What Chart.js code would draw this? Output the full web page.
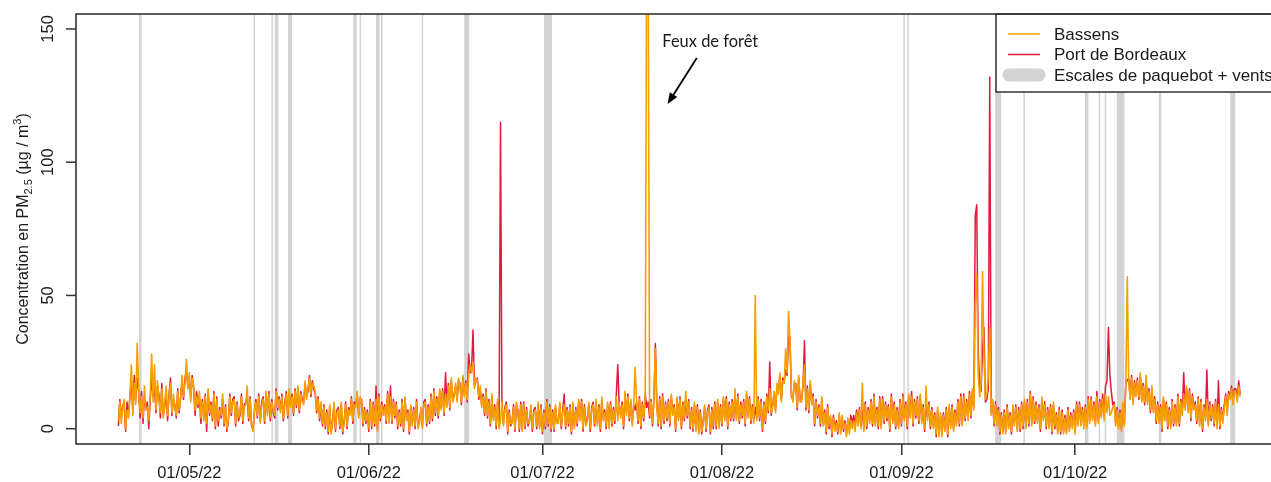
<!DOCTYPE html>
<html><head><meta charset="utf-8">
<script src="https://cdn.jsdelivr.net/npm/chart.js@4.4.1/dist/chart.umd.min.js"></script>
<style>html,body{margin:0;padding:0;background:#fff;overflow:hidden;width:1271px;height:482px}canvas{display:block}</style>
</head><body><canvas id="c" width="1300" height="482"></canvas>
<script>
// ---- DATA ----
const seriesNames = ['Bassens', 'Port de Bordeaux'];
const bandLabel = 'Escales de paquebot + vents';
// 6-hourly values; first value at day -12.25 (days counted from 01/05/22)
const firstDay = -12.25;
const stepDays = 0.25;
const bassens = [
3,10,2,8, 11,0,7,4, 13,24,5,17, 9,32,15,6, 12,4,16,7, 8,3,13,28, 10,24,7,18, 11,6,15,4, 9,16,5,12, 17,6,13,8,
5,14,7,11, 20,12,17,26, 15,21,10,19, 16,7,12,9, 14,4,10,3, 12,2,15,6, 9,4,13,1, 11,3,7,5, 13,2,8,0, 4,12,6,10,
11,2,9,4, 6,12,3,8, 9,16,4,11, 2,-1,7,10, 5,12,2,9, 11,3,14,5, 13,4,10,7, 5,14,8,11, 6,12,4,9, 13,5,15,8,
12,6,14,9, 16,7,13,10, 9,18,11,15, 19,13,17,16, 14,7,11,4, 10,2,8,1, 6,-1,9,-2, 2,10,0,6, 7,1,10,-1, 2,9,1,7,
5,11,3,9, 8,14,4,12, 10,2,7,3, 6,0,10,1, 9,2,11,-1, 12,4,9,5, 8,3,13,2, 12,3,10,5, 9,1,6,2, 10,0,12,3,
6,-1,9,1, 7,1,10,0, 2,8,0,9, 10,2,8,3, 12,4,14,6, 11,5,15,7, 14,6,13,8, 16,8,19,10, 12,17,10,19, 16,10,20,12,
17,11,20,24, 21,25,15,19, 18,12,16,8, 12,6,14,5, 10,2,13,3, 8,1,11,0, 3,10,1,7, 9,-1,6,2, 2,8,0,10, 6,0,9,-1,
9,1,7,2, 2,9,0,6, 7,1,10,0, 8,-1,6,1, 10,2,8,0, 6,0,9,2, 2,10,1,6, 9,1,7,2, 8,-1,10,0, 7,2,11,3,
10,0,8,1, 3,10,0,7, 9,2,11,1, 8,0,12,3, 6,1,10,0, 9,2,7,3, 12,3,10,4, 9,1,14,5, 12,4,11,1, 8,23,11,3,
11,1,9,4, 12,190,175,5, 10,2,12,30, 8,2,11,1, 12,3,9,4, 10,2,13,5, 8,0,12,3, 11,1,9,4, 14,5,10,1, 7,0,10,-1,
8,-2,6,-1, 2,9,0,6, 8,-1,7,1, 9,1,11,0, 8,2,12,3, 11,1,9,4, 10,4,15,3, 12,3,9,5, 10,2,14,4, 11,3,8,2,
50,3,11,4, 10,0,9,3, 12,7,15,6, 8,14,6,17, 13,21,10,18, 17,30,21,44, 33,13,10,18, 16,8,20,10, 10,17,24,8, 15,7,18,9,
12,2,10,5, 8,2,12,1, 6,-1,8,1, 5,-2,4,-1, 2,-1,6,-2, 5,0,2,-3, 4,-2,3,0, 3,-1,6,1, 7,0,17,-1, 9,1,7,2,
10,2,12,1, 7,1,11,0, 11,3,9,4, 8,0,12,2, 9,1,7,0, 10,2,12,3, 9,1,13,4, 12,2,10,5, 11,3,13,2, 8,0,16,3,
9,1,7,0, 5,-2,8,-3, 6,-3,5,-1, 7,-2,9,0, 8,-1,6,1, 10,2,12,1, 12,4,10,3, 13,5,15,7, 47,58,21,12, 17,59,27,11,
13,20,38,5, 11,2,9,1, 7,-1,5,-2, 6,-2,8,0, 5,-1,9,1, 8,-1,7,0, 9,1,11,0, 10,2,13,1, 11,3,9,2, 8,0,12,3,
9,1,7,0, 8,-1,10,1, 5,-2,7,-1, 6,-2,4,-2, 7,-1,5,0, 6,-2,9,1, 9,1,7,0, 8,0,11,2, 11,3,9,1, 12,2,10,4,
11,3,13,6, 12,5,6,8, 9,1,7,0, 6,-1,10,1, 16,57,18,11, 19,9,17,12, 18,12,21,10, 16,10,20,9, 14,7,16,6, 11,3,9,2,
8,0,12,3, 9,1,7,0, 10,2,8,1, 12,2,10,5, 13,7,16,6, 14,4,12,7, 9,3,11,1, 10,0,8,3, 11,1,9,4, 8,2,10,0,
9,1,7,2, 8,12,5,13, 11,15,9,14, 14,10,16,12
];
const portBordeaux = [
1,11,4,9, 9,-1,10,5, 12,18,6,20, 11,19,14,4, 14,2,12,8, 10,0,11,19, 12,15,6,16, 13,4,17,5, 8,14,3,13, 19,5,11,9,
4,15,6,12, 18,11,19,22, 16,18,12,20, 15,5,14,8, 12,2,11,4, 13,-1,14,5, 10,3,14,0, 12,1,8,4, 11,1,9,-1, 3,13,5,11,
12,1,10,3, 5,13,2,9, 10,12,3,12, 1,0,6,11, 4,13,3,10, 12,2,13,6, 14,3,11,6, 4,15,7,12, 7,13,3,10, 14,4,13,9,
13,5,15,8, 15,6,14,11, 10,17,12,14, 20,12,18,15, 13,6,12,3, 9,1,9,0, 7,-2,8,-1, 3,9,-1,7, 8,0,9,-2, 3,10,0,8,
6,12,2,10, 9,13,5,11, 11,1,8,2, 7,-1,11,0, 10,1,16,0, 13,3,10,6, 9,2,14,3, 16,2,11,4, 10,0,7,1, 11,-1,11,4,
7,-2,8,2, 8,0,11,1, 3,7,1,10, 11,1,9,2, 13,3,15,5, 12,4,14,8, 15,5,21,9, 17,7,18,11, 13,16,11,18, 17,9,19,13,
18,10,28,21, 22,37,16,18, 19,11,15,9, 13,5,15,4, 11,1,12,4, 9,0,10,1, 115,9,2,8, 10,-2,7,1, 3,9,-1,9, 7,-1,10,0,
10,0,8,1, 3,8,-1,7, 8,0,9,1, 9,-2,7,0, 11,1,9,-1, 7,-1,8,3, 3,9,0,7, 13,0,8,1, 9,-2,9,1, 8,1,10,4,
11,-1,9,2, 4,9,-1,8, 10,1,10,2, 9,-1,11,4, 7,0,9,1, 10,1,8,2, 13,24,9,5, 10,0,12,6, 13,3,10,2, 9,7,10,2,
12,0,10,3, 13,8,10,4, 11,1,11,32, 9,1,12,0, 13,2,10,3, 11,1,12,6, 9,-1,11,4, 12,0,10,3, 12,4,11,0, 8,-1,9,0,
9,-1,7,-2, 3,8,-1,7, 9,-2,8,0, 10,0,10,1, 9,1,11,4, 12,0,10,3, 11,3,13,4, 13,2,10,4, 11,1,13,5, 12,2,9,3,
8,4,12,3, 11,-1,10,2, 13,6,25,5, 9,13,7,16, 14,20,11,19, 18,22,20,35, 34,12,11,17, 17,7,19,11, 11,16,33,7, 16,6,17,10,
13,1,11,4, 9,1,11,2, 7,-2,9,0, 4,-3,5,0, 3,-2,5,-1, 4,-1,3,-2, 3,0,5,2, 5,2,7,3, 8,1,7,0, 10,0,8,3,
11,1,13,2, 8,0,12,1, 12,2,10,3, 9,-1,13,3, 10,0,8,1, 11,1,13,4, 10,0,12,5, 14,1,11,4, 12,2,12,3, 9,-1,10,4,
10,0,8,1, 6,-3,7,-2, 5,-2,6,0, 8,-3,8,1, 9,0,7,2, 11,1,13,2, 13,3,11,4, 14,4,14,8, 80,84,30,16, 14,30,38,10,
11,15,132,6, 10,1,10,2, 8,-2,6,-1, 7,-1,9,1, 6,-2,8,2, 9,0,8,-1, 10,0,10,1, 11,1,14,2, 12,2,10,3, 9,-1,11,4,
10,0,8,1, 9,-2,9,0, 6,-1,8,-2, 7,-1,5,-1, 8,0,6,1, 7,-1,10,2, 10,2,8,1, 9,1,12,3, 12,4,10,2, 14,3,11,5,
13,5,16,18, 38,20,14,9, 10,2,8,1, 7,0,9,2, 17,18,19,12, 20,10,18,13, 19,11,20,11, 17,9,19,10, 15,6,15,7, 12,2,10,3,
9,-1,11,4, 10,0,8,1, 11,1,9,2, 13,1,11,6, 21,8,15,7, 15,3,13,8, 10,2,12,2, 11,-1,9,4, 22,2,10,3, 9,1,11,1,
18,0,8,3, 9,13,6,14, 12,16,10,15, 15,11,18,13
];
// cruise-ship calls + wind periods (start / end, days from 01/05/22)
const bandStart = [-8.68, 11.10, 14.19, 14.78, 17.05, 28.32, 29.41, 32.25, 33.11, 40.14, 47.47, 61.27, 123.33, 124.02, 139.18, 144.06, 154.70, 157.06, 158.10, 160.21, 167.46, 179.78];
const bandEnd   = [-8.25, 11.36, 14.45, 15.38, 17.75, 28.92, 29.67, 32.85, 33.37, 40.40, 48.33, 62.65, 123.59, 124.28, 140.22, 144.32, 155.30, 157.32, 158.36, 161.51, 167.89, 180.64];
const xTickDays = [0, 31, 61, 92, 123, 153];
const xTickLabels = ['01/05/22', '01/06/22', '01/07/22', '01/08/22', '01/09/22', '01/10/22'];
const yTickValues = [0, 50, 100, 150];
const yTickLabels = ['0', '50', '100', '150'];
const annotationText = 'Feux de forêt';

// ---- STYLE ----
const ORANGE = '#F6A000', RED = '#E3173F', BAND = '#D3D3D3', INK = '#1a1a1a', AXIS = '#333333';
const SANS = '"Liberation Sans", Arial, sans-serif';

const overlay = {
  id: 'overlay',
  beforeDatasetsDraw(chart) {
    const { ctx, chartArea: a, scales: { x } } = chart;
    ctx.save();
    ctx.beginPath(); ctx.rect(a.left, a.top, a.right - a.left, a.bottom - a.top); ctx.clip();
    ctx.fillStyle = BAND;
    bandStart.forEach((s, i) => {
      const x0 = x.getPixelForValue(s), x1 = x.getPixelForValue(bandEnd[i]);
      ctx.fillRect(x0, a.top, Math.max(1, x1 - x0), a.bottom - a.top);
    });
    ctx.restore();
  },
  afterDraw(chart) {
    const { ctx, chartArea: a, scales: { x, y } } = chart;
    ctx.save();
    // annotation
    const tx = x.getPixelForValue(81.7), ty = y.getPixelForValue(143.2);
    ctx.fillStyle = INK;
    ctx.font = '16px Lato, "Open Sans", sans-serif';
    const w0 = ctx.measureText(annotationText).width;
    const fs = 16 * 96 / w0;
    ctx.font = fs.toFixed(2) + 'px Lato, "Open Sans", sans-serif';
    ctx.textBaseline = 'alphabetic'; ctx.textAlign = 'left';
    ctx.fillText(annotationText, tx, ty);
    // arrow
    const ax0 = x.getPixelForValue(87.65), ay0 = y.getPixelForValue(139.1);
    const ax1 = x.getPixelForValue(82.6), ay1 = y.getPixelForValue(121.8);
    const ang = Math.atan2(ay1 - ay0, ax1 - ax0), hl = 12;
    ctx.strokeStyle = '#000'; ctx.lineWidth = 1.8;
    ctx.beginPath(); ctx.moveTo(ax0, ay0);
    ctx.lineTo(ax1 - Math.cos(ang) * hl * 0.8, ay1 - Math.sin(ang) * hl * 0.8); ctx.stroke();
    ctx.fillStyle = '#000';
    ctx.beginPath(); ctx.moveTo(ax1, ay1);
    ctx.lineTo(ax1 - hl * Math.cos(ang - 0.38), ay1 - hl * Math.sin(ang - 0.38));
    ctx.lineTo(ax1 - hl * Math.cos(ang + 0.38), ay1 - hl * Math.sin(ang + 0.38));
    ctx.closePath(); ctx.fill();

    // legend (top-right)
    const lx = 996, ly = a.top, lw = a.right - lx, lh = 78;
    ctx.fillStyle = '#fff'; ctx.fillRect(lx, ly, lw, lh);
    ctx.strokeStyle = AXIS; ctx.lineWidth = 1.5; ctx.strokeRect(lx, ly, lw, lh);
    ctx.font = '17px ' + SANS; ctx.fillStyle = INK; ctx.textBaseline = 'middle'; ctx.textAlign = 'left';
    const rows = [ly + 20, ly + 40.5, ly + 61];
    ctx.lineWidth = 1.5;
    ctx.strokeStyle = ORANGE; ctx.beginPath(); ctx.moveTo(lx + 12, rows[0]); ctx.lineTo(lx + 44, rows[0]); ctx.stroke();
    ctx.strokeStyle = RED; ctx.beginPath(); ctx.moveTo(lx + 12, rows[1]); ctx.lineTo(lx + 44, rows[1]); ctx.stroke();
    ctx.strokeStyle = BAND; ctx.lineWidth = 13; ctx.lineCap = 'round';
    ctx.beginPath(); ctx.moveTo(lx + 13, rows[2]); ctx.lineTo(lx + 43, rows[2]); ctx.stroke();
    ctx.lineCap = 'butt';
    ctx.fillText(seriesNames[0], lx + 58, rows[0] + 1);
    ctx.fillText(seriesNames[1], lx + 58, rows[1] + 1);
    ctx.fillText(bandLabel, lx + 58, rows[2] + 1);

    // plot box
    ctx.strokeStyle = AXIS; ctx.lineWidth = 1.6;
    ctx.strokeRect(a.left, a.top, a.right - a.left, a.bottom - a.top);

    // y ticks + rotated labels
    ctx.lineWidth = 1.5;
    ctx.font = '16.5px ' + SANS; ctx.fillStyle = INK; ctx.textAlign = 'center'; ctx.textBaseline = 'alphabetic';
    yTickValues.forEach((v, i) => {
      const py = y.getPixelForValue(v);
      ctx.beginPath(); ctx.moveTo(a.left - 10, py); ctx.lineTo(a.left, py); ctx.stroke();
      ctx.save(); ctx.translate(a.left - 23, py); ctx.rotate(-Math.PI / 2);
      ctx.fillText(yTickLabels[i], 0, 0); ctx.restore();
    });

    // y title with subscript / superscript
    const parts = [
      { t: 'Concentration en PM', s: 16, dy: 0 },
      { t: '2.5', s: 11, dy: 4 },
      { t: ' (µg / m', s: 16, dy: 0 },
      { t: '3', s: 11, dy: -7 },
      { t: ')', s: 16, dy: 0 }
    ];
    let total = 0;
    parts.forEach(p => { ctx.font = p.s + 'px ' + SANS; p.w = ctx.measureText(p.t).width; total += p.w; });
    ctx.save();
    ctx.translate(28, (a.top + a.bottom) / 2); ctx.rotate(-Math.PI / 2);
    ctx.textAlign = 'left'; ctx.textBaseline = 'alphabetic';
    let cx = -total / 2;
    parts.forEach(p => { ctx.font = p.s + 'px ' + SANS; ctx.fillText(p.t, cx, p.dy); cx += p.w; });
    ctx.restore();
    ctx.restore();
  }
};

const toPoints = arr => arr.map((v, i) => ({ x: firstDay + i * stepDays, y: v }));

new Chart(document.getElementById('c'), {
  type: 'line',
  data: {
    datasets: [
      { label: seriesNames[0], data: toPoints(bassens), borderColor: ORANGE, borderWidth: 1.6, pointRadius: 0, tension: 0, borderJoinStyle: 'round' },
      { label: seriesNames[1], data: toPoints(portBordeaux), borderColor: RED, borderWidth: 1.5, pointRadius: 0, tension: 0, borderJoinStyle: 'round' }
    ]
  },
  options: {
    responsive: false, animation: false, events: [],
    layout: { padding: { top: 14, right: 17, left: 0, bottom: 0 } },
    plugins: { legend: { display: false }, tooltip: { enabled: false } },
    scales: {
      x: {
        type: 'linear', min: -19.57, max: 188.9,
        afterBuildTicks: s => { s.ticks = xTickDays.map(v => ({ value: v })); },
        afterFit: s => { s.height = 38; },
        ticks: { autoSkip: false, maxRotation: 0, minRotation: 0, padding: 9, color: INK,
                 font: { family: SANS, size: 16.5 }, callback: (v, i) => xTickLabels[i] },
        grid: { display: true, drawOnChartArea: false, drawTicks: true, tickLength: 11, color: AXIS, lineWidth: 1.5 },
        border: { display: false }
      },
      y: {
        type: 'linear', min: -5.74, max: 155.6,
        afterFit: s => { s.width = 76; },
        ticks: { display: false }, grid: { display: false }, border: { display: false }
      }
    }
  },
  plugins: [overlay]
});
</script></body></html>
